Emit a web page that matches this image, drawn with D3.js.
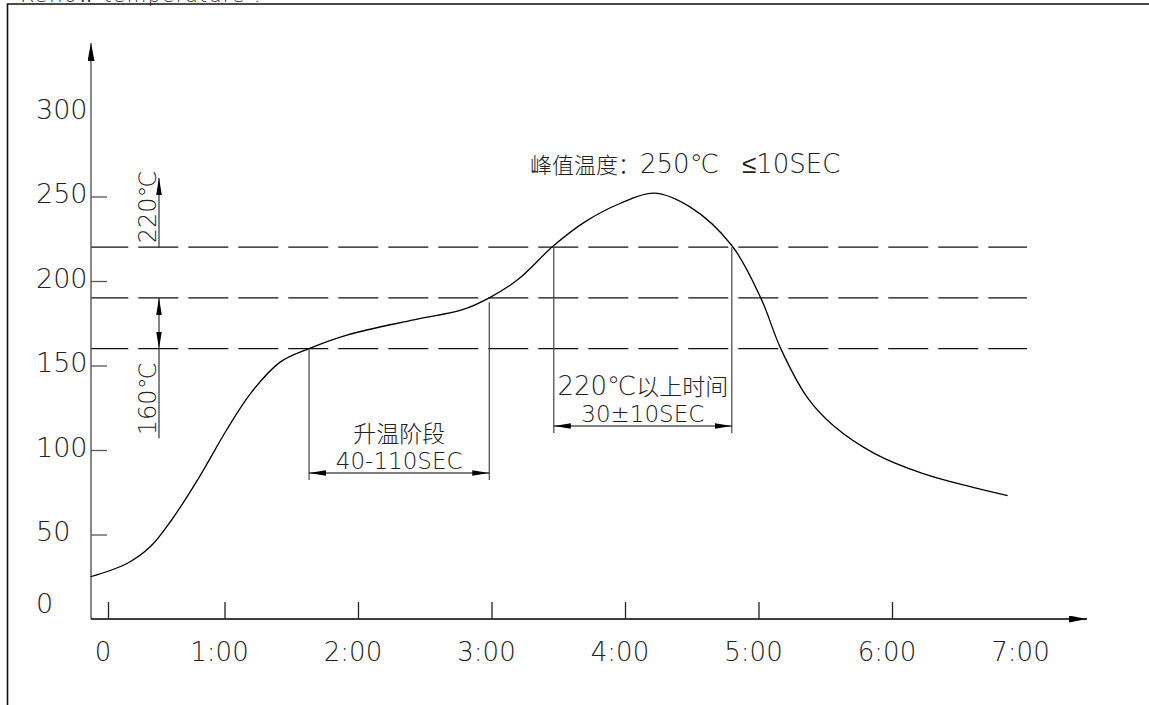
<!DOCTYPE html>
<meta charset="utf-8">

<style>

body {
  margin: 0;
  background: #fff;
}

svg.chart text.cad,
svg.chart tspan.cad {
  font-family: "DejaVu Sans", sans-serif;
  font-weight: 200;
  fill: #222;
}

svg.chart text.cjk,
svg.chart tspan.cjk {
  font-family: "Noto Sans CJK SC", sans-serif;
  font-weight: 300;
  fill: #222;
}

</style>

<svg class="chart" width="1149" height="705"></svg>

<script src="https://d3js.org/d3.v7.min.js"></script>

<script>

// reflow profile, time in seconds, temperature in degrees C
var curveTime = [-9, 10, 22, 33, 47, 61, 72, 85, 98, 115, 145, 167, 179, 192, 208, 222, 238, 253, 269, 288, 301, 310, 322, 334, 352, 374, 396, 412];
var curveTemp = [25, 33, 43, 59, 84, 112, 134, 152, 160, 168, 177, 183, 190, 201, 221, 235, 246, 252, 244, 221, 190, 160, 131, 114, 98, 86, 78, 73];

var yTickValues = [50, 100, 150, 200, 250];
var yLabelValues = [0, 50, 100, 150, 200, 250, 300];
var xTickValues = [0, 60, 120, 180, 240, 300, 360];
var xLabelValues = [0, 60, 120, 180, 240, 300, 360, 420];
var xLabelText = ["0", "1:00", "2:00", "3:00", "4:00", "5:00", "6:00", "7:00"];

var limitTemps = [220, 190, 160];
var soakWindow = [98, 179];      // 升温阶段
var liquidWindow = [208, 288];   // 220℃以上时间

var svg = d3.select("svg.chart");

var x = d3.scaleLinear()
  .domain([0, 60, 420])
  .range([108, 224.5, 1025.5]);

var y = d3.scaleLinear()
  .domain([0, 250])
  .range([619, 196.5]);

var axisX = 91;          // where the vertical axis sits
var axisY = y(0);

// arrow heads
var defs = svg.append("defs");
defs.append("marker")
  .attr("id", "axisArrow")
  .attr("viewBox", "0 -3.5 18 7")
  .attr("refX", 18).attr("refY", 0)
  .attr("markerWidth", 18).attr("markerHeight", 7)
  .attr("markerUnits", "userSpaceOnUse")
  .attr("orient", "auto")
  .append("path").attr("d", "M0,-3.5L18,0L0,3.5Z").attr("fill", "#000");

defs.append("marker")
  .attr("id", "dimArrow")
  .attr("viewBox", "0 -2.8 17 5.6")
  .attr("refX", 17).attr("refY", 0)
  .attr("markerWidth", 17).attr("markerHeight", 5.6)
  .attr("markerUnits", "userSpaceOnUse")
  .attr("orient", "auto-start-reverse")
  .append("path").attr("d", "M0,-2.8L17,0L0,2.8Z").attr("fill", "#000");

// frame, with the title above it mostly cut off by the page edge
svg.append("text")
  .attr("class", "cad")
  .attr("x", 262).attr("y", 1.5)
  .attr("text-anchor", "end")
  .style("font-size", "20px")
  .style("letter-spacing", "1.5px")
  .text("Reflow temperature :");

svg.append("path")
  .attr("d", "M7.5,705V4H1149")
  .attr("fill", "none")
  .attr("stroke", "#111")
  .attr("stroke-width", 1.6);

// limit lines
svg.selectAll("line.limit")
  .data(limitTemps)
  .enter().append("line")
  .attr("class", "limit")
  .attr("x1", axisX).attr("x2", 1027)
  .attr("y1", function(d) { return y(d); })
  .attr("y2", function(d) { return y(d); })
  .attr("stroke", "#111")
  .attr("stroke-width", 1.3)
  .attr("stroke-dasharray", "40,10")
  .attr("stroke-dashoffset", 2.7);

// y axis
svg.append("line")
  .attr("x1", axisX).attr("x2", axisX)
  .attr("y1", axisY).attr("y2", 43)
  .attr("stroke", "#555")
  .attr("stroke-width", 1.4)
  .attr("marker-end", "url(#axisArrow)");

svg.append("g")
  .attr("transform", "translate(" + axisX + ",0)")
  .call(d3.axisRight(y).tickValues(yTickValues).tickSize(16).tickFormat(""))
  .call(function(g) { g.select(".domain").remove(); })
  .selectAll("line").attr("stroke", "#555").attr("stroke-width", 1.3);

svg.selectAll("text.ylabel")
  .data(yLabelValues)
  .enter().append("text")
  .attr("class", "cad ylabel")
  .attr("x", 36)
  .attr("y", function(d) { return Math.min(y(d) - 3, axisY - 16); })
  .attr("dy", "0.36em")
  .style("font-size", "27px")
  .text(function(d) { return d; });

// x axis
svg.append("line")
  .attr("x1", axisX).attr("x2", 1087)
  .attr("y1", axisY).attr("y2", axisY)
  .attr("stroke", "#000")
  .attr("stroke-width", 1.4)
  .attr("marker-end", "url(#axisArrow)");

svg.append("g")
  .attr("transform", "translate(0," + axisY + ")")
  .call(d3.axisBottom(x).tickValues(xTickValues).tickSizeInner(-17).tickSizeOuter(0).tickFormat(""))
  .call(function(g) { g.select(".domain").remove(); })
  .selectAll("line").attr("stroke", "#222").attr("stroke-width", 1.3);

svg.selectAll("text.xlabel")
  .data(xLabelValues)
  .enter().append("text")
  .attr("class", "cad xlabel")
  .attr("x", function(d) { return x(d) - 5; })
  .attr("y", axisY + 33)
  .attr("dy", "0.36em")
  .attr("text-anchor", "middle")
  .style("font-size", "26px")
  .text(function(d, i) { return xLabelText[i]; });

// profile curve
var profile = curveTime.map(function(t, i) { return [t, curveTemp[i]]; });

svg.append("path")
  .datum(profile)
  .attr("fill", "none")
  .attr("stroke", "#000")
  .attr("stroke-width", 1.3)
  .attr("d", d3.line()
    .x(function(d) { return x(d[0]); })
    .y(function(d) { return y(d[1]); })
    .curve(d3.curveCatmullRom.alpha(0.5)));

// left side band markers
var bandX = axisX + 68;

svg.append("line")
  .attr("x1", bandX).attr("x2", bandX)
  .attr("y1", y(220)).attr("y2", y(261))
  .attr("stroke", "#333").attr("stroke-width", 1.2)
  .attr("marker-end", "url(#dimArrow)");

svg.append("line")
  .attr("x1", bandX).attr("x2", bandX)
  .attr("y1", y(190)).attr("y2", y(160))
  .attr("stroke", "#333").attr("stroke-width", 1.2)
  .attr("marker-start", "url(#dimArrow)")
  .attr("marker-end", "url(#dimArrow)");

svg.append("line")
  .attr("x1", bandX).attr("x2", bandX)
  .attr("y1", y(160)).attr("y2", y(107))
  .attr("stroke", "#333").attr("stroke-width", 1.2);

svg.append("text")
  .attr("class", "cad")
  .attr("transform", "translate(" + (bandX - 3) + "," + (y(220) - 4) + ") rotate(-90)")
  .style("font-size", "24px")
  .text("220℃");

svg.append("text")
  .attr("class", "cad")
  .attr("transform", "translate(" + (bandX - 3) + "," + (y(107) - 3) + ") rotate(-90)")
  .style("font-size", "24px")
  .text("160℃");

// time windows; first label line is given as [cad part, cjk part]
function drawWindow(win, topTemps, arrowY, line1, line2) {
  var x0 = x(win[0]), x1 = x(win[1]);
  var g = svg.append("g");

  [0, 1].forEach(function(i) {
    g.append("line")
      .attr("x1", i ? x1 : x0).attr("x2", i ? x1 : x0)
      .attr("y1", y(topTemps[i])).attr("y2", arrowY + 7)
      .attr("stroke", "#444").attr("stroke-width", 1.2);
  });

  g.append("line")
    .attr("x1", x0).attr("x2", x1)
    .attr("y1", arrowY).attr("y2", arrowY)
    .attr("stroke", "#000").attr("stroke-width", 1.2)
    .attr("marker-start", "url(#dimArrow)")
    .attr("marker-end", "url(#dimArrow)");

  var t1 = g.append("text")
    .attr("x", (x0 + x1) / 2).attr("y", arrowY - 31)
    .attr("text-anchor", "middle");
  if (line1[0]) t1.append("tspan").attr("class", "cad").style("font-size", "26px").text(line1[0]);
  t1.append("tspan").attr("class", "cjk").style("font-size", "23px").text(line1[1]);

  g.append("text")
    .attr("class", "cad")
    .attr("x", (x0 + x1) / 2).attr("y", arrowY - 4)
    .attr("text-anchor", "middle")
    .style("font-size", "23px")
    .text(line2);
}

drawWindow(soakWindow, [160, 187.5], 473, ["", "升温阶段"], "40-110SEC");
drawWindow(liquidWindow, [220, 220], 426, ["220℃", "以上时间"], "30±10SEC");

// peak note
var peak = svg.append("text")
  .attr("class", "cad")
  .attr("x", 530).attr("y", 173)
  .style("font-size", "26px");

peak.append("tspan").attr("class", "cjk").style("font-size", "22px").text("峰值温度：");
peak.append("tspan").text("250℃");
peak.append("tspan").attr("x", 742).text("≤10SEC");

</script>
